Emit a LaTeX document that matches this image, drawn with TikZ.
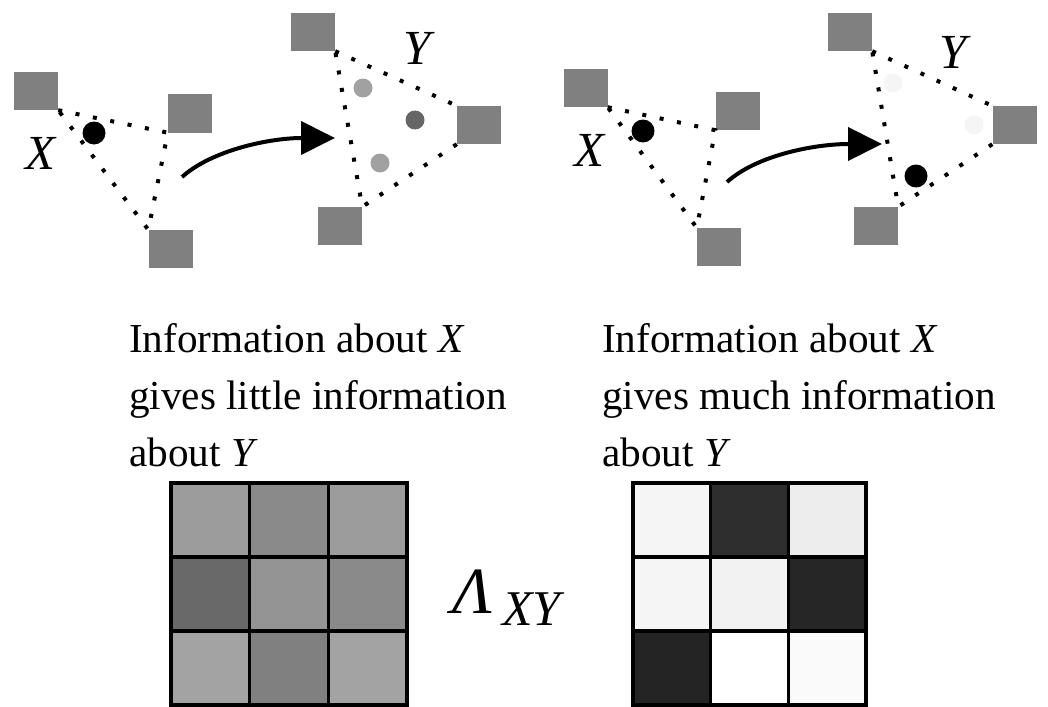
\documentclass[tikz,border=0pt]{standalone}
\usepackage{fontspec}
\setmainfont{Liberation Serif}
\usepackage{xcolor}
\usepackage{tikz}
\usetikzlibrary{arrows.meta}

\definecolor{sitegray}{gray}{0.5}

\begin{document}
\begin{tikzpicture}[
      x=1pt, y=-1pt,
      site/.style={fill=sitegray, minimum width=44pt, minimum height=38pt, inner sep=0pt},
      spot/.style={circle, fill=#1, inner sep=0pt, minimum size=19pt},
      bigspot/.style={circle, fill=black, inner sep=0pt, minimum size=23pt},
      link/.style={line width=4pt, dash pattern=on 4pt off 13.7pt},
      flow/.style={line width=4pt, -{Triangle[length=34pt, width=33pt]}},
      var/.style={font=\fontsize{49}{49}\selectfont\itshape, inner sep=0pt},
      caption/.style={font=\fontsize{41.2}{57}\selectfont, align=left, anchor=north west, inner sep=0pt},
      gridline/.style={line width=3.4pt}
    ]
    \useasboundingbox (0,0) rectangle (1048,706);

    % Left panel: X with three sites
    \node[site] (siteA) at (36,91) {};
    \node[site] (siteB) at (190,113.5) {};
    \node[site] (siteC) at (170.5,249) {};
    \draw[link] (siteA.south east) -- (siteB.south west) -- (siteC.north west) -- cycle;
    \node[bigspot] (xdotL) at (94,133) {};
    \node[var] (xL) at (40,153) {X};

    % Left panel: Y with three sites
    \node[site] (siteD) at (313,32) {};
    \node[site] (siteE) at (479,125) {};
    \node[site] (siteF) at (340,226) {};
    \draw[link] (siteD.south east) -- (siteE.north west);
    \draw[link] (siteE.south west) -- (siteF.north east) -- (siteD.south east);
    \node[var] (yL) at (417,48) {Y};
    \node[spot=black!37] (ydotL1) at (363,88) {};
    \node[spot=black!60] (ydotL2) at (415,120) {};
    \node[spot=black!37] (ydotL3) at (380,163) {};

    % Arrow X -> Y (left)
    \coordinate (arrL0) at (182,177);
    \coordinate (arrL1) at (335,138);
    \draw[flow] (arrL0) .. controls (212,150) and (270,138) .. (arrL1);

    % Right panel: X with three sites
    \node[site] (siteA2) at (585.5,88) {};
    \node[site] (siteB2) at (737.5,111) {};
    \node[site] (siteC2) at (719,247) {};
    \draw[link] (siteA2.south east) -- (siteB2.south west) -- (siteC2.north west) -- cycle;
    \node[bigspot] (xdotR) at (643,131) {};
    \node[var] (xR) at (589,150) {X};

    % Right panel: Y with three sites
    \node[site] (siteD2) at (850,32) {};
    \node[site] (siteE2) at (1014.5,125) {};
    \node[site] (siteF2) at (876,226) {};
    \draw[link] (siteD2.south east) -- (siteE2.north west);
    \draw[link] (siteE2.south west) -- (siteF2.north east) -- (siteD2.south east);
    \node[var] (yR) at (953,52) {Y};
    \node[spot=black!4] (ydotR1) at (893,83) {};
    \node[spot=black!4] (ydotR2) at (974,125) {};
    \node[bigspot] (ydotR3) at (916,176) {};

    % Arrow X -> Y (right)
    \coordinate (arrR0) at (727,182);
    \coordinate (arrR1) at (882,144);
    \draw[flow] (arrR0) .. controls (757,155) and (815,144) .. (arrR1);

    % Captions
    \node[caption] (capL) at (129,323) {Information about \textit{X}\\gives little information\\about \textit{Y}};
    \node[caption] (capR) at (602,323) {Information about \textit{X}\\gives much information\\about \textit{Y}};

    % Matrices
    \foreach \col/\row/\g in {0/0/39,1/0/46,2/0/39,0/1/59,1/1/42,2/1/46,0/2/36,1/2/50,2/2/36}
      \fill[black!\g] ({171+\col*78.67},{483+\row*74}) rectangle ++(78.67,74);
    \foreach \col/\row/\g in {0/0/4,1/0/82,2/0/7,0/1/4,1/1/5,2/1/85,0/2/86,1/2/0,2/2/2}
      \fill[black!\g] ({633+\col*77.67},{483+\row*74}) rectangle ++(77.67,74);
    \foreach \k in {1,2} {
      \draw[gridline] ({171+\k*78.67},483) -- ++(0,222);
      \draw[gridline] (171,{483+\k*74}) -- ++(236,0);
      \draw[gridline] ({633+\k*77.67},483) -- ++(0,222);
      \draw[gridline] (633,{483+\k*74}) -- ++(233,0);
    }
    \draw[gridline] (171,483) rectangle (407,705);
    \draw[gridline] (633,483) rectangle (866,705);

    \node[anchor=base west, inner sep=0pt] (lambda) at (452,613)
      {\fontsize{66}{66}\selectfont\textit{Λ}\hspace{10pt}\raisebox{-12pt}{\fontsize{50}{50}\selectfont\textit{XY}}};
  \end{tikzpicture}
\end{document}
